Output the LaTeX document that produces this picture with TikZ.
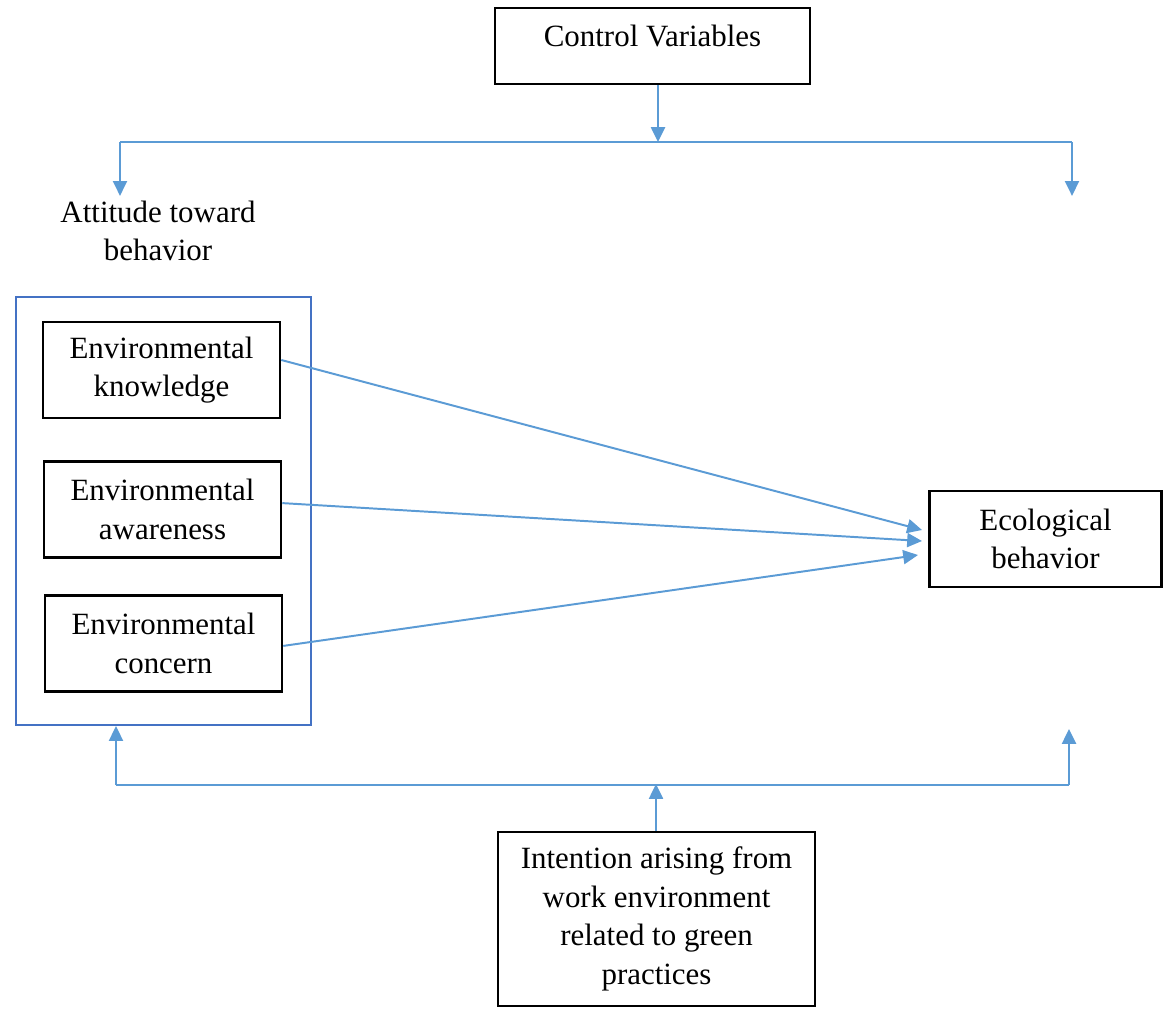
\documentclass[tikz,border=0pt]{standalone}
\usepackage{fontspec}
\setmainfont{Liberation Serif}
\usepackage{tikz}
\usepackage{xcolor}
\usetikzlibrary{arrows.meta, positioning}
\definecolor{cLink}{RGB}{91,155,213}
\definecolor{cGroup}{RGB}{68,114,196}
\tikzset{
	box/.style   ={rectangle, draw=black, line width=1.8pt, align=center, inner sep=2pt},
	envbox/.style={box, minimum width=5.925cm, minimum height=2.4cm},
	grp/.style   ={rectangle, draw=cGroup, line width=1.4pt, minimum width=7.375cm, minimum height=10.7cm},
	link/.style  ={-{Triangle[length=3.7mm, width=3.5mm]}, line width=1.4pt, draw=cLink, fill=cLink},
	bus/.style   ={line width=1pt, draw=cLink},
}
\begin{document}
\begin{tikzpicture}[x=0.025cm, y=-0.025cm, font=\fontsize{22}{27.4}\selectfont]
	\useasboundingbox (0,0) rectangle (1163,1009);
	% boxes
	\node[box, minimum width=7.875cm, minimum height=1.9cm, text height=0.55cm, text depth=0.55cm] (ctrl) at (652.5,46) {Control Variables};
	\node[align=center] (att) at (158,231) {Attitude toward\\behavior};
	\node[grp] (grp) at (163.5,511) {};
	\node[envbox] (know) at (161.5,370) {Environmental\\knowledge};
	\node[envbox] (aware) at (162.5,509.5) {Environmental\\awareness};
	\node[envbox] (conc) at (163.5,643.5) {Environmental\\concern};
	\node[box, minimum width=5.8cm, minimum height=2.4cm] (eco) at (1045.5,539) {Ecological\\behavior};
	\node[box, minimum width=7.925cm, minimum height=4.35cm] (intent) at (656.5,919) {Intention arising from\\work environment\\related to green\\practices};
	% control variables
	\coordinate (cvbus) at (658,142);
	\coordinate (tl) at (120,142);
	\coordinate (tr) at (1072,142);
	\draw[link] (ctrl.south -| cvbus) -- (cvbus);
	\draw[bus] (tl) -- (tr);
	\draw[link] (tl) -- (att.north -| tl);
	\draw[link] (tr) -- (tr |- att.north);
	% attitude to behavior
	\coordinate (e1) at (922,530);
	\coordinate (e2) at (922,541);
	\coordinate (e3) at (918,555);
	\draw[link] ([yshift=0.25cm]know.east) -- (e1);
	\draw[link] ([yshift=0.16cm]aware.east) -- (e2);
	\draw[link] ([yshift=-0.06cm]conc.east) -- (e3);
	% intention
	\coordinate (bm) at (656,784);
	\coordinate (bl) at (116,785);
	\coordinate (br) at (1069,785);
	\draw[bus] (bl) -- (br);
	\draw[link] (bl) -- (grp.south -| bl);
	\draw[link] (br) -- ++(0,-56);
	\draw[link] (intent.north -| bm) -- (bm);
\end{tikzpicture}
\end{document}
